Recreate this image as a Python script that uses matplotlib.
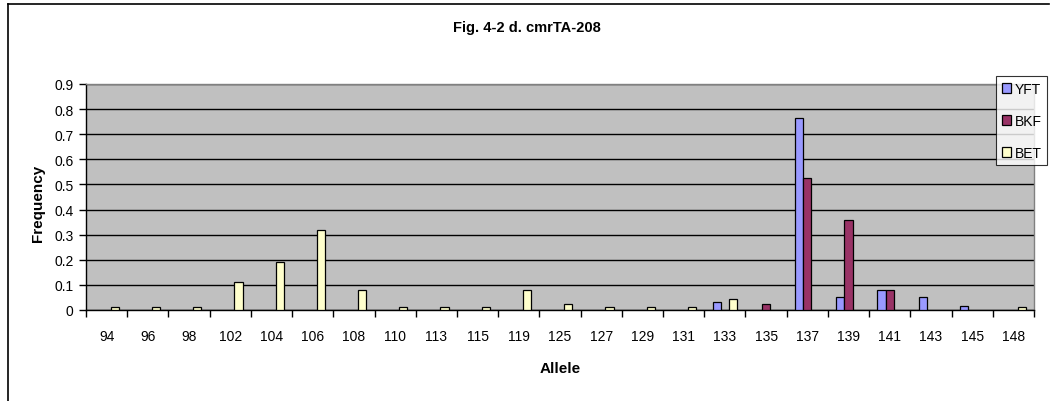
import numpy as np
import matplotlib
matplotlib.use("Agg")
import matplotlib.pyplot as plt
from matplotlib.lines import Line2D

plt.rcParams['font.family'] = ['Liberation Sans', 'DejaVu Sans']

alleles = ["94", "96", "98", "102", "104", "106", "108", "110", "113", "115", "119",
           "125", "127", "129", "131", "133", "135", "137", "139", "141", "143", "145", "148"]
yft = [0, 0, 0, 0, 0, 0, 0, 0, 0, 0, 0,
       0, 0, 0, 0, 0.03, 0, 0.765, 0.05, 0.08, 0.05, 0.017, 0]
bkf = [0, 0, 0, 0, 0, 0, 0, 0, 0, 0, 0,
       0, 0, 0, 0, 0, 0.023, 0.525, 0.36, 0.08, 0, 0, 0]
bet = [0.01, 0.01, 0.01, 0.11, 0.19, 0.32, 0.08, 0.01, 0.01, 0.01, 0.08,
       0.022, 0.01, 0.01, 0.01, 0.043, 0, 0, 0, 0, 0, 0, 0.01]
series = ["YFT", "BKF", "BET"]
colors = ["#9999FF", "#993366", "#FFFFCC"]
yticks = [0, 0.1, 0.2, 0.3, 0.4, 0.5, 0.6, 0.7, 0.8, 0.9]
ytick_labels = ["0", "0.1", "0.2", "0.3", "0.4", "0.5", "0.6", "0.7", "0.8", "0.9"]

fig = plt.figure(figsize=(10.53, 4.02), dpi=100)
ax = fig.add_axes([86/1053, 1-311/402, (1034-86)/1053, (311-85)/402])
ax.set_facecolor("#C0C0C0")

x = np.arange(len(alleles))
w = 0.2
for i, (vals, c) in enumerate(zip([yft, bkf, bet], colors)):
    h = np.array(vals)
    m = h > 0
    ax.bar(x[m] + (i-1)*w, h[m], width=w, color=c, edgecolor="black", linewidth=0.9, zorder=3)

ax.set_xlim(-0.5, len(alleles)-0.5)
ax.set_ylim(0, 0.9)
ax.set_yticks(yticks)
ax.set_yticklabels(ytick_labels)
ax.yaxis.grid(True, color="black", linewidth=1.0, zorder=1)
ax.set_axisbelow(True)
ax.set_xticks(x)
ax.set_xticklabels(alleles)
ax.set_xticks(np.arange(-0.5, len(alleles)), minor=True)
ax.tick_params(axis="x", which="major", length=0, pad=14, labelsize=10)
ax.tick_params(axis="x", which="minor", length=5, width=1, direction="out")
ax.tick_params(axis="y", length=5, width=1, direction="out", labelsize=10, pad=4)
for s in ["left", "bottom"]:
    ax.spines[s].set_color("black")
    ax.spines[s].set_linewidth(1)
for s in ["top", "right"]:
    ax.spines[s].set_color("#808080")
    ax.spines[s].set_linewidth(1)

fig.text(38/1053, 1-203/402, "Frequency", rotation=90, ha="center", va="center",
         fontsize=11, fontweight="bold")
fig.text(560/1053, 1-369/402, "Allele", ha="center", va="center",
         fontsize=11, fontweight="bold")
fig.text(0.5, 1-28/402, "Fig. 4-2 d. cmrTA-208", ha="center", va="center",
         fontsize=10.5, fontweight="bold")

handles = [plt.Rectangle((0, 0), 1, 1, facecolor=c, edgecolor="black", linewidth=0.9) for c in colors]
leg = fig.legend(handles, series, loc="upper left", bbox_to_anchor=(996/1053, 1-77/402),
                 frameon=True, fancybox=False, fontsize=10, handlelength=0.7, handleheight=0.7,
                 handletextpad=0.25, labelspacing=1.3, borderpad=0.4, borderaxespad=0)
leg.get_frame().set_edgecolor("black")
leg.get_frame().set_linewidth(0.8)

# chart border (left and top only visible)
fig.add_artist(Line2D([8/1053, 8/1053], [0, 1-5/402], color="black", linewidth=1.2))
fig.add_artist(Line2D([8/1053, 1049/1053], [1-5/402, 1-5/402], color="black", linewidth=1.2))

fig.savefig("out.png", dpi=100)
